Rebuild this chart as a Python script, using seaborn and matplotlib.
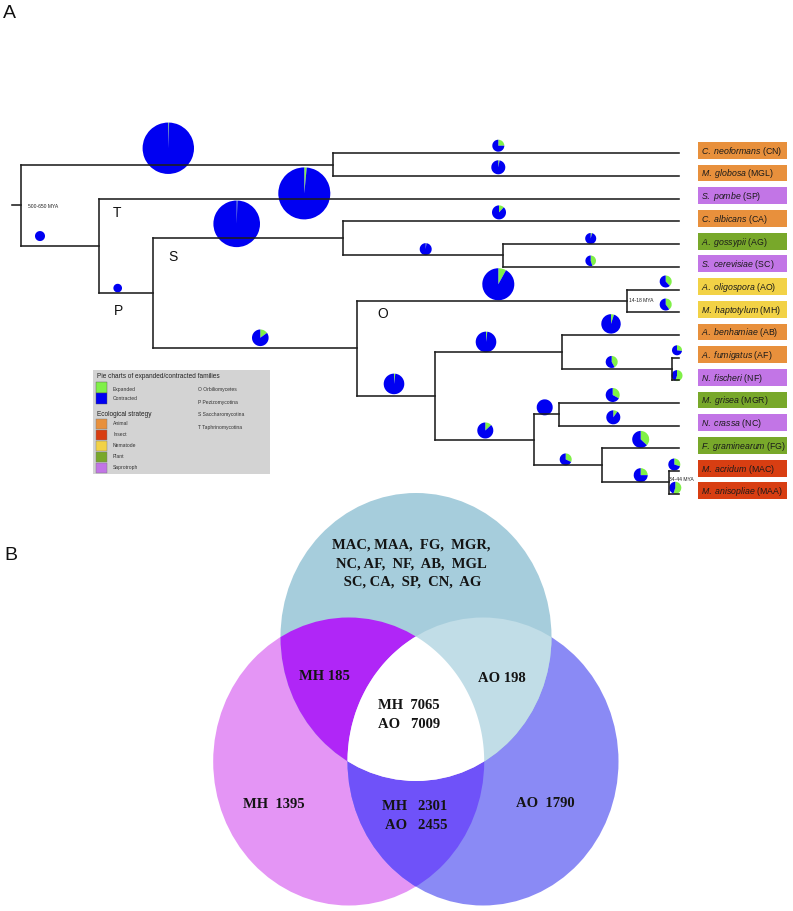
import numpy as np
import matplotlib
matplotlib.use("Agg")
import matplotlib.pyplot as plt
from matplotlib.patches import Ellipse, Rectangle, Polygon
import seaborn as sns

sns.set_theme(style="white")
plt.rcParams['font.family'] = ['Liberation Sans', 'DejaVu Sans']
plt.rcParams['mathtext.fontset'] = 'custom'
plt.rcParams['mathtext.it'] = 'Liberation Sans:italic'
plt.rcParams['mathtext.rm'] = 'Liberation Sans'

# ---------------- panel A data ----------------
species_codes = ['CN', 'MGL', 'SP', 'CA', 'AG', 'SC', 'AO', 'MH',
                 'AB', 'AF', 'NF', 'MGR', 'NC', 'FG', 'MAC', 'MAA']
species_names = ['C. neoformans', 'M. globosa', 'S. pombe', 'C. albicans',
                 'A. gossypii', 'S. cerevisiae', 'A. oligospora', 'M. haptotylum',
                 'A. benhamiae', 'A. fumigatus', 'N. fischeri', 'M. grisea',
                 'N. crassa', 'F. graminearum', 'M. acridum', 'M. anisopliae']
ecology = ['Animal', 'Animal', 'Saprotroph', 'Animal', 'Plant', 'Saprotroph',
           'Nematode', 'Nematode', 'Animal', 'Animal', 'Saprotroph', 'Plant',
           'Saprotroph', 'Plant', 'Insect', 'Insect']
ecology_types = ['Animal', 'Insect', 'Nematode', 'Plant', 'Saprotroph']
clade_names = ['O Orbiliomycetes', 'P Pezizomycotina',
               'S Saccharomycotina', 'T Taphrinomycotina']

# tree topology (children listed top to bottom)
tree_children = {
    'root': ['cn_mgl', 'tap'],
    'cn_mgl': ['CN', 'MGL'],
    'tap': ['SP', 'pez'],
    'pez': ['sac', 'orb'],
    'sac': ['CA', 'ag_sc'],
    'ag_sc': ['AG', 'SC'],
    'orb': ['ao_mh', 'n2'],
    'ao_mh': ['AO', 'MH'],
    'n2': ['n3', 'n4'],
    'n3': ['AB', 'af_nf'],
    'af_nf': ['AF', 'NF'],
    'n4': ['mgr_nc', 'n5'],
    'mgr_nc': ['MGR', 'NC'],
    'n5': ['FG', 'mac_maa'],
    'mac_maa': ['MAC', 'MAA'],
}

# expanded/contracted pies: branch (node it leads to), expanded share, pie radius
pie_branch = ['tap', 'cn_mgl', 'pez', 'SP', 'sac', 'CN', 'MGL', 'CA', 'ag_sc',
              'AG', 'SC', 'ao_mh', 'AO', 'MH', 'orb', 'n2', 'n3', 'AB', 'af_nf',
              'AF', 'NF', 'n4', 'mgr_nc', 'MGR', 'NC', 'n5', 'FG', 'mac_maa',
              'MAC', 'MAA']
pie_expanded = [0.0, 0.005, 0.0, 0.015, 0.005, 0.25, 0.03, 0.12, 0.02,
                0.04, 0.45, 0.08, 0.38, 0.40, 0.15, 0.02, 0.02, 0.05, 0.42,
                0.27, 0.55, 0.13, 0.0, 0.33, 0.10, 0.32, 0.37, 0.25,
                0.30, 0.55]
pie_radius = [5, 25.7, 4.3, 26, 23.3, 6, 7, 7, 6,
              5.5, 5.3, 16, 6, 6, 8.3, 10.3, 10.3, 9.7, 6,
              5, 5.5, 8, 8, 7, 7, 6, 8.5, 7,
              6, 6]

# ---------------- panel B data ----------------
venn_others = "MAC, MAA,  FG,  MGR,\nNC, AF,  NF,  AB,  MGL\n SC, CA,  SP,  CN,  AG"
mh_only = 1395
ao_only = 1790
mh_with_others = 185
ao_with_others = 198
mh_shared_ao, ao_shared_mh = 2301, 2455
mh_all, ao_all = 7065, 7009

# ---------------- layout / style ----------------
eco_colors = {'Animal': '#e8903c', 'Insect': '#d83e12', 'Nematode': '#f2d246',
              'Plant': '#78a82a', 'Saprotroph': '#c275e6'}
col_exp, col_con = '#80f048', '#0000f2'

node_x = {'root': 20.7, 'cn_mgl': 333, 'tap': 98.7, 'pez': 153.3, 'sac': 343.3,
          'ag_sc': 503.3, 'orb': 357.3, 'ao_mh': 627.3, 'n2': 435, 'n3': 561.7,
          'af_nf': 672, 'n4': 533.7, 'mgr_nc': 559, 'n5': 601.7, 'mac_maa': 668.7}
tip_x = 679
pie_x = [40, 168.3, 117.7, 304.3, 236.7, 498.3, 498.3, 499, 425.7,
         590.7, 590.7, 498.3, 665.7, 665.7, 260.3, 394, 486, 611, 611.7,
         677, 677, 485.3, 544.7, 612.7, 613.3, 565.7, 640.7, 640.7,
         674.3, 675.3]
pie_lift = [10, 16.4, 5.3, 5.3, 14.6, 7.6, 8.7, 9, 6.3,
            5.6, 6, 16.6, 8, 7.7, 10.6, 12, 10, 11, 7,
            7.3, 4.7, 9.4, 7, 8, 8.4, 6, 9, 7.3,
            6.6, 6]

fig = plt.figure(figsize=(7.93, 9.12), dpi=100)
ax = fig.add_axes([0, 0, 1, 1])

# node positions
node_y = {c: 154.3 + 22.7 * i for i, c in enumerate(species_codes)}


def place(n):
    if n in node_y:
        return node_y[n]
    ys = [place(k) for k in tree_children[n]]
    node_y[n] = (ys[0] + ys[-1]) / 2
    return node_y[n]


place('root')

# tree branches
line_kw = dict(color='#1e1e1e', lw=1.15, solid_capstyle='projecting')
for n, kids in tree_children.items():
    ax.plot([node_x[n]] * 2, [node_y[kids[0]], node_y[kids[-1]]], **line_kw)
    for k in kids:
        ax.plot([node_x[n], node_x.get(k, tip_x)], [node_y[k]] * 2, **line_kw)
ax.plot([12, node_x['root']], [node_y['root']] * 2, **line_kw)

# pies (y axis is inverted, so start at -90 and run counterclockwise in data)
for b, f, r, px, lift in zip(pie_branch, pie_expanded, pie_radius, pie_x, pie_lift):
    ax.pie([f, 1 - f], colors=[col_exp, col_con], center=(px, node_y[b] - lift),
           radius=r, startangle=-90, counterclock=True, frame=True,
           wedgeprops=dict(linewidth=0))

# species labels
for code, name, eco in zip(species_codes, species_names, ecology):
    y = node_y[code] - 3
    ax.add_patch(Rectangle((698, y - 8.4), 89, 16.8, facecolor=eco_colors[eco], lw=0))
    label = r"$\it{" + name.replace(' ', r'\ ') + "}$ (" + code + ")"
    ax.text(701, y, label, fontsize=6.3, va='center', color='#1a1a1a')

# clade letters and ages
for letter, (lx, ly) in zip('TSPO', [(117, 213), (173.3, 256.7), (118, 311), (382.7, 314.3)]):
    ax.text(lx, ly, letter, fontsize=10, ha='center', va='center', color='#111111')
ax.text(27.5, 207, '500-650 MYA', fontsize=3.6, va='center', color='#222222')
ax.text(629.5, 300.5, '14-18 MYA', fontsize=3.6, va='center', color='#222222')
ax.text(669.5, 480, '34-44 MYA', fontsize=3.6, va='center', color='#222222')

# legend box
ax.add_patch(Rectangle((92.7, 371), 177.3, 104, facecolor='#d3d3d3', lw=0))
ax.text(96.5, 376.5, 'Pie charts of expanded/contracted families', fontsize=4.7,
        va='center', color='#222222')
for i, (lab, c) in enumerate(zip(['Expanded', 'Contracted'], [col_exp, col_con])):
    ax.add_patch(Rectangle((95.7, 383 + 11 * i), 11, 10.5, facecolor=c,
                           edgecolor='#555555', lw=0.3))
    ax.text(113, 389.5 + 9.5 * i, lab, fontsize=3.6, va='center', color='#333333')
ax.text(96.5, 415, 'Ecological strategy', fontsize=4.7, va='center', color='#222222')
for i, eco in enumerate(ecology_types):
    ax.add_patch(Rectangle((95.7, 419.5 + 11 * i), 11, 10.5, facecolor=eco_colors[eco],
                           edgecolor='#777777', lw=0.3))
    ax.text(113, 424 + 11 * i, eco, fontsize=3.6, va='center', color='#333333')
for i, cl in enumerate(clade_names):
    ax.text(198, 389.5 + 12.7 * i, cl, fontsize=3.6, va='center', color='#333333')

# panel letters
ax.text(3, 14, 'A', fontsize=14, va='center', color='#111111')
ax.text(4, 556, 'B', fontsize=14, va='center', color='#111111')

# ---------------- Venn diagram ----------------
top_e = (416, 638, 271, 288)
left_e = (348.7, 762.5, 271, 288)
right_e = (483, 762.5, 271, 288)


def ell(e, color):
    p = Ellipse((e[0], e[1]), e[2], e[3], facecolor=color, lw=0)
    ax.add_patch(p)
    return p


def clip_ell(e):
    return Ellipse((e[0], e[1]), e[2], e[3], transform=ax.transData)


ell(left_e, '#e495f5')
ell(right_e, '#8a8af5')
ell(top_e, '#a6cddc')
ell(right_e, '#6f52f9').set_clip_path(clip_ell(left_e))
ell(top_e, '#b026f7').set_clip_path(clip_ell(left_e))
ell(top_e, '#c1dde7').set_clip_path(clip_ell(right_e))


def inside(px, py, e):
    return ((px - e[0]) / (e[2] / 2)) ** 2 + ((py - e[1]) / (e[3] / 2)) ** 2 <= 1


t1 = np.linspace(-np.pi, np.pi, 1441)
lx = left_e[0] + left_e[2] / 2 * np.cos(t1)
ly = left_e[1] + left_e[3] / 2 * np.sin(t1)
m1 = inside(lx, ly, right_e)
t2 = np.linspace(0, 2 * np.pi, 1441)
rx = right_e[0] + right_e[2] / 2 * np.cos(t2)
ry = right_e[1] + right_e[3] / 2 * np.sin(t2)
m2 = inside(rx, ry, left_e)
lens = np.vstack([np.column_stack([lx[m1], ly[m1]]), np.column_stack([rx[m2], ry[m2]])])
ell(top_e, 'white').set_clip_path(Polygon(lens, closed=True, transform=ax.transData))

vkw = dict(fontsize=10.5, fontweight='bold', family='Liberation Serif', color='#141414',
           va='center', linespacing=1.55)
ax.text(411, 564, venn_others, ha='center', multialignment='center', **vkw)
ax.text(324.7, 677, f'MH {mh_with_others}', ha='center', **vkw)
ax.text(501.7, 679, f'AO {ao_with_others}', ha='center', **vkw)
ax.text(377.5, 715, f'MH  {mh_all}\nAO   {ao_all}', ha='left', **vkw)
ax.text(273.7, 805, f'MH  {mh_only}', ha='center', **vkw)
ax.text(447.5, 816, f'MH   {mh_shared_ao}\nAO   {ao_shared_mh}', ha='right',
        multialignment='right', **vkw)
ax.text(545, 804, f'AO  {ao_only}', ha='center', **vkw)

ax.set_xlim(0, 793)
ax.set_ylim(912, 0)
ax.set_aspect('equal')
ax.axis('off')

fig.savefig('out.png', dpi=100)
